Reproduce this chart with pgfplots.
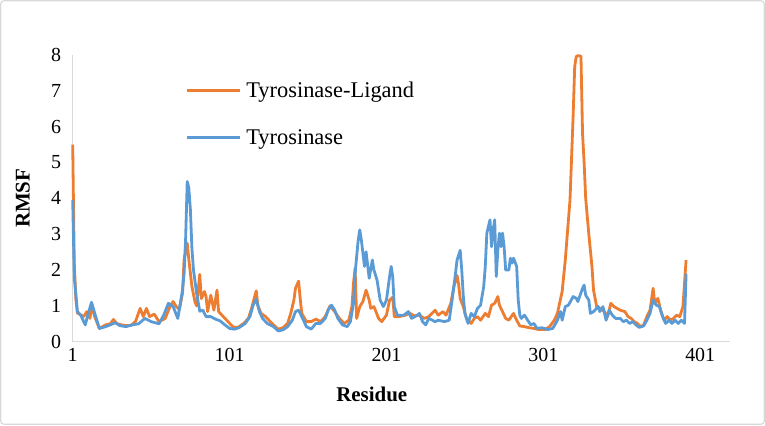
\documentclass[border=0pt]{standalone}
\usepackage{fontspec}
\setmainfont{Liberation Serif}
\usepackage{pgfplots}
\pgfplotsset{compat=1.18}
\definecolor{xlorange}{RGB}{237,125,49}
\definecolor{xlblue}{RGB}{91,155,213}
\definecolor{xlgrid}{RGB}{217,217,217}
\begin{document}
\begin{tikzpicture}[x=1bp,y=1bp]
\path[use as bounding box] (0,0) rectangle (765,425);
\draw[xlgrid, line width=1.2bp, rounded corners=3bp] (0.8,0.8) rectangle (764.2,424.2);
\begin{axis}[
  at={(72.7bp,83.3bp)}, anchor=origin,
  scale only axis, width=657.3bp, height=286.7bp,
  xmin=1, xmax=420, ymin=0, ymax=8,
  axis x line*=bottom, axis y line*=left,
  axis line style={xlgrid, line width=1.5bp},
  xtick={1,101,201,301,401}, ytick={0,1,2,3,4,5,6,7,8},
  major tick length=0pt,
  /pgf/number format/assume math mode=true,
  tick label style={font=\fontsize{20}{24}\selectfont, text=black},
  y tick label style={xshift=-8bp},
  x tick label style={yshift=-3bp},
  xlabel={\textbf{Residue}}, ylabel={\textbf{RMSF}},
  label style={font=\fontsize{21}{24}\selectfont},
  x label style={at={(axis description cs:0.455,-0.183)}, anchor=center},
  y label style={at={(axis description cs:-0.076,0.5)}, anchor=center},
  legend style={draw=none, fill=none, at={(axis description cs:0.171,0.906)}, anchor=north west,
    inner sep=0pt, row sep=30bp, column sep=5bp,
    font=\fontsize{22.5}{26}\selectfont,
    nodes={inner sep=0pt, anchor=west}},
  legend cell align=left,
  legend image code/.code={\draw[#1, line width=3bp] (0bp,0bp) -- (53bp,0bp);},
  clip=false,
]
\addplot[xlorange, line width=2.8bp, line join=round] coordinates {
(1,5.5)(2,2.2)(3,1.2)(4,0.8)(6,0.75)(8,0.7)(10,0.84)(12,0.65)(13,1.0)(15,0.7)(18,0.37)(20,0.42)(22,0.47)(25,0.5)(27,0.62)(29,0.51)(32,0.47)(35,0.45)(38,0.45)(41,0.56)(44,0.93)(46,0.7)(48,0.93)(50,0.7)(53,0.77)(56,0.56)(60,0.65)(63,0.98)(65,1.12)(67,0.98)(69,0.9)(71,1.35)(72,2.3)(74,2.75)(75,2.3)(77,1.54)(79,1.1)(80,1.0)(82,1.88)(83,1.2)(85,1.4)(86,1.26)(87,0.84)(89,1.3)(91,0.88)(93,1.44)(94,0.84)(97,0.7)(100,0.56)(103,0.42)(106,0.39)(110,0.51)(113,0.65)(115,0.93)(117,1.26)(118,1.42)(119,1.02)(121,0.79)(124,0.7)(128,0.51)(132,0.35)(135,0.39)(138,0.51)(140,0.79)(142,1.16)(143,1.49)(145,1.69)(146,1.21)(147,0.79)(150,0.56)(153,0.56)(156,0.63)(159,0.56)(162,0.7)(165,1.0)(168,0.84)(171,0.65)(174,0.51)(177,0.6)(179,0.98)(180,1.63)(181,2.05)(182,0.65)(184,0.98)(186,1.12)(188,1.44)(190,1.16)(191,0.93)(193,0.98)(196,0.65)(198,0.56)(201,0.74)(203,1.16)(205,1.24)(206,0.7)(209,0.7)(213,0.74)(216,0.79)(219,0.72)(222,0.74)(225,0.65)(228,0.7)(232,0.88)(234,0.74)(237,0.84)(239,0.74)(242,1.07)(244,1.54)(246,1.85)(247,1.6)(248,1.2)(250,0.98)(252,0.65)(255,0.51)(257,0.65)(259,0.7)(261,0.6)(264,0.79)(266,0.7)(268,1.02)(270,1.07)(272,1.26)(273,1.02)(275,0.84)(277,0.65)(279,0.6)(282,0.79)(284,0.6)(286,0.44)(289,0.42)(292,0.39)(295,0.37)(298,0.34)(302,0.34)(305,0.42)(308,0.6)(310,0.79)(311,1.0)(313,1.4)(315,2.28)(317,3.4)(318,3.95)(320,6.3)(321,7.68)(322,7.96)(323,7.98)(324,7.98)(325,7.96)(326,5.8)(327,5.0)(328,4.0)(330,3.0)(332,2.1)(333,1.44)(335,0.98)(337,0.93)(340,0.84)(342,0.7)(344,1.07)(346,0.98)(348,0.93)(350,0.88)(353,0.84)(355,0.7)(357,0.65)(359,0.56)(361,0.51)(363,0.42)(365,0.47)(367,0.7)(369,0.88)(371,1.49)(372,1.07)(374,1.21)(376,0.84)(378,0.6)(380,0.7)(382,0.6)(384,0.65)(386,0.74)(388,0.7)(390,0.98)(392,2.28)
};
\addlegendentry{Tyrosinase-Ligand}
\addplot[xlblue, line width=2.8bp, line join=round] coordinates {
(1,3.96)(2,1.8)(4,0.84)(6,0.75)(9,0.47)(11,0.8)(13,1.1)(15,0.8)(18,0.37)(22,0.42)(25,0.47)(28,0.53)(31,0.45)(35,0.42)(39,0.47)(43,0.5)(47,0.65)(51,0.56)(56,0.5)(59,0.74)(62,1.07)(65,0.98)(68,0.65)(71,1.44)(72,1.9)(73,2.9)(74,4.47)(75,4.3)(76,3.7)(77,2.6)(78,2.0)(80,1.35)(82,0.85)(84,0.88)(86,0.7)(89,0.7)(92,0.63)(95,0.58)(98,0.47)(101,0.37)(104,0.35)(107,0.39)(111,0.51)(114,0.7)(116,1.02)(118,1.19)(120,0.84)(122,0.65)(125,0.51)(129,0.42)(132,0.3)(135,0.33)(138,0.42)(141,0.6)(143,0.84)(145,0.88)(147,0.7)(150,0.42)(153,0.35)(156,0.51)(159,0.51)(162,0.65)(164,0.9)(166,1.02)(168,0.88)(170,0.65)(173,0.47)(176,0.42)(178,0.56)(180,1.07)(181,1.9)(183,2.84)(184,3.12)(185,2.84)(187,2.1)(188,2.51)(190,1.77)(192,2.28)(193,2.0)(195,1.72)(197,1.16)(199,0.98)(201,1.16)(203,1.82)(204,2.1)(205,1.82)(206,0.98)(208,0.74)(212,0.74)(215,0.84)(217,0.65)(220,0.72)(222,0.79)(224,0.56)(226,0.47)(228,0.65)(232,0.56)(234,0.6)(238,0.56)(241,0.6)(243,1.21)(245,1.9)(246,2.28)(248,2.55)(249,2.0)(250,1.26)(251,0.79)(253,0.51)(255,0.79)(257,0.7)(259,0.93)(261,1.02)(263,1.54)(264,2.1)(265,3.03)(267,3.4)(268,2.65)(269,3.12)(270,3.4)(271,1.82)(272,2.56)(273,3.03)(274,2.65)(275,3.03)(276,2.65)(277,2.0)(279,2.0)(280,2.33)(281,2.19)(282,2.33)(284,2.1)(285,1.16)(286,0.74)(287,0.65)(289,0.74)(291,0.6)(293,0.47)(295,0.51)(297,0.37)(300,0.39)(304,0.34)(307,0.37)(310,0.6)(312,0.84)(313,0.6)(315,0.98)(317,1.02)(320,1.26)(322,1.21)(323,1.12)(326,1.49)(327,1.58)(328,1.3)(330,1.16)(331,0.79)(333,0.84)(336,0.98)(337,0.84)(339,0.98)(341,0.6)(343,0.88)(345,0.74)(347,0.65)(350,0.65)(352,0.56)(354,0.6)(356,0.51)(358,0.56)(360,0.47)(362,0.4)(365,0.44)(367,0.6)(369,0.79)(371,1.16)(373,1.02)(375,0.98)(377,0.7)(379,0.51)(381,0.6)(383,0.51)(385,0.6)(387,0.51)(389,0.6)(391,0.51)(392,1.9)
};
\addlegendentry{Tyrosinase}
\end{axis}
\end{tikzpicture}
\end{document}
